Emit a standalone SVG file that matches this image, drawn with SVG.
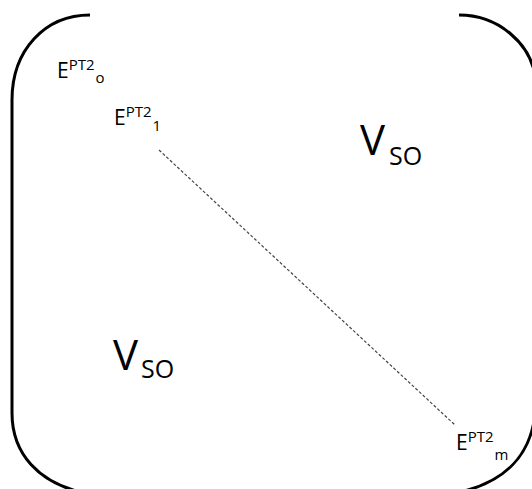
<svg xmlns="http://www.w3.org/2000/svg" width="532" height="489" viewBox="0 0 532 489">
<style>
.br{fill:none;stroke:#000;stroke-width:3;stroke-linecap:butt}
.t{font-family:"Open Sans","Noto Sans",sans-serif;fill:#000}
</style>
<rect width="532" height="489" fill="#fff"/>
<g id="bracket">
<path class="br" d="M 90 15 C 45 15, 12 50, 12 100 L 12 413 C 12 455, 40 482, 80 492"/>
<path class="br" d="M 459 15 C 500 15, 530 45, 535 75"/>
<path class="br" d="M 535 415 C 530 455, 505 482, 460 492"/>
</g>
<g id="connectors">
<line x1="159" y1="150" x2="455" y2="425" stroke="#444" stroke-width="1.2" stroke-dasharray="3 2"/>
</g>
<g id="e0">
<text class="t" x="57" y="78" font-size="21">E<tspan font-size="15" dy="-8">PT2</tspan><tspan font-size="15" dy="13" dx="1">o</tspan></text>
</g>
<g id="e1">
<text class="t" x="114" y="125" font-size="21">E<tspan font-size="15" dy="-8">PT2</tspan><tspan font-size="15" dy="14" dx="1">1</tspan></text>
</g>
<g id="em">
<text class="t" x="456" y="450" font-size="21">E<tspan font-size="15" dy="-8">PT2</tspan><tspan font-size="15" dy="18" dx="1">m</tspan></text>
</g>
<g id="vso1">
<text class="t" x="360" y="155" font-size="42">V<tspan font-size="25" dy="10" dx="4">SO</tspan></text>
</g>
<g id="vso2">
<text class="t" x="113" y="370" font-size="42">V<tspan font-size="25" dy="8" dx="3">SO</tspan></text>
</g>
</svg>
